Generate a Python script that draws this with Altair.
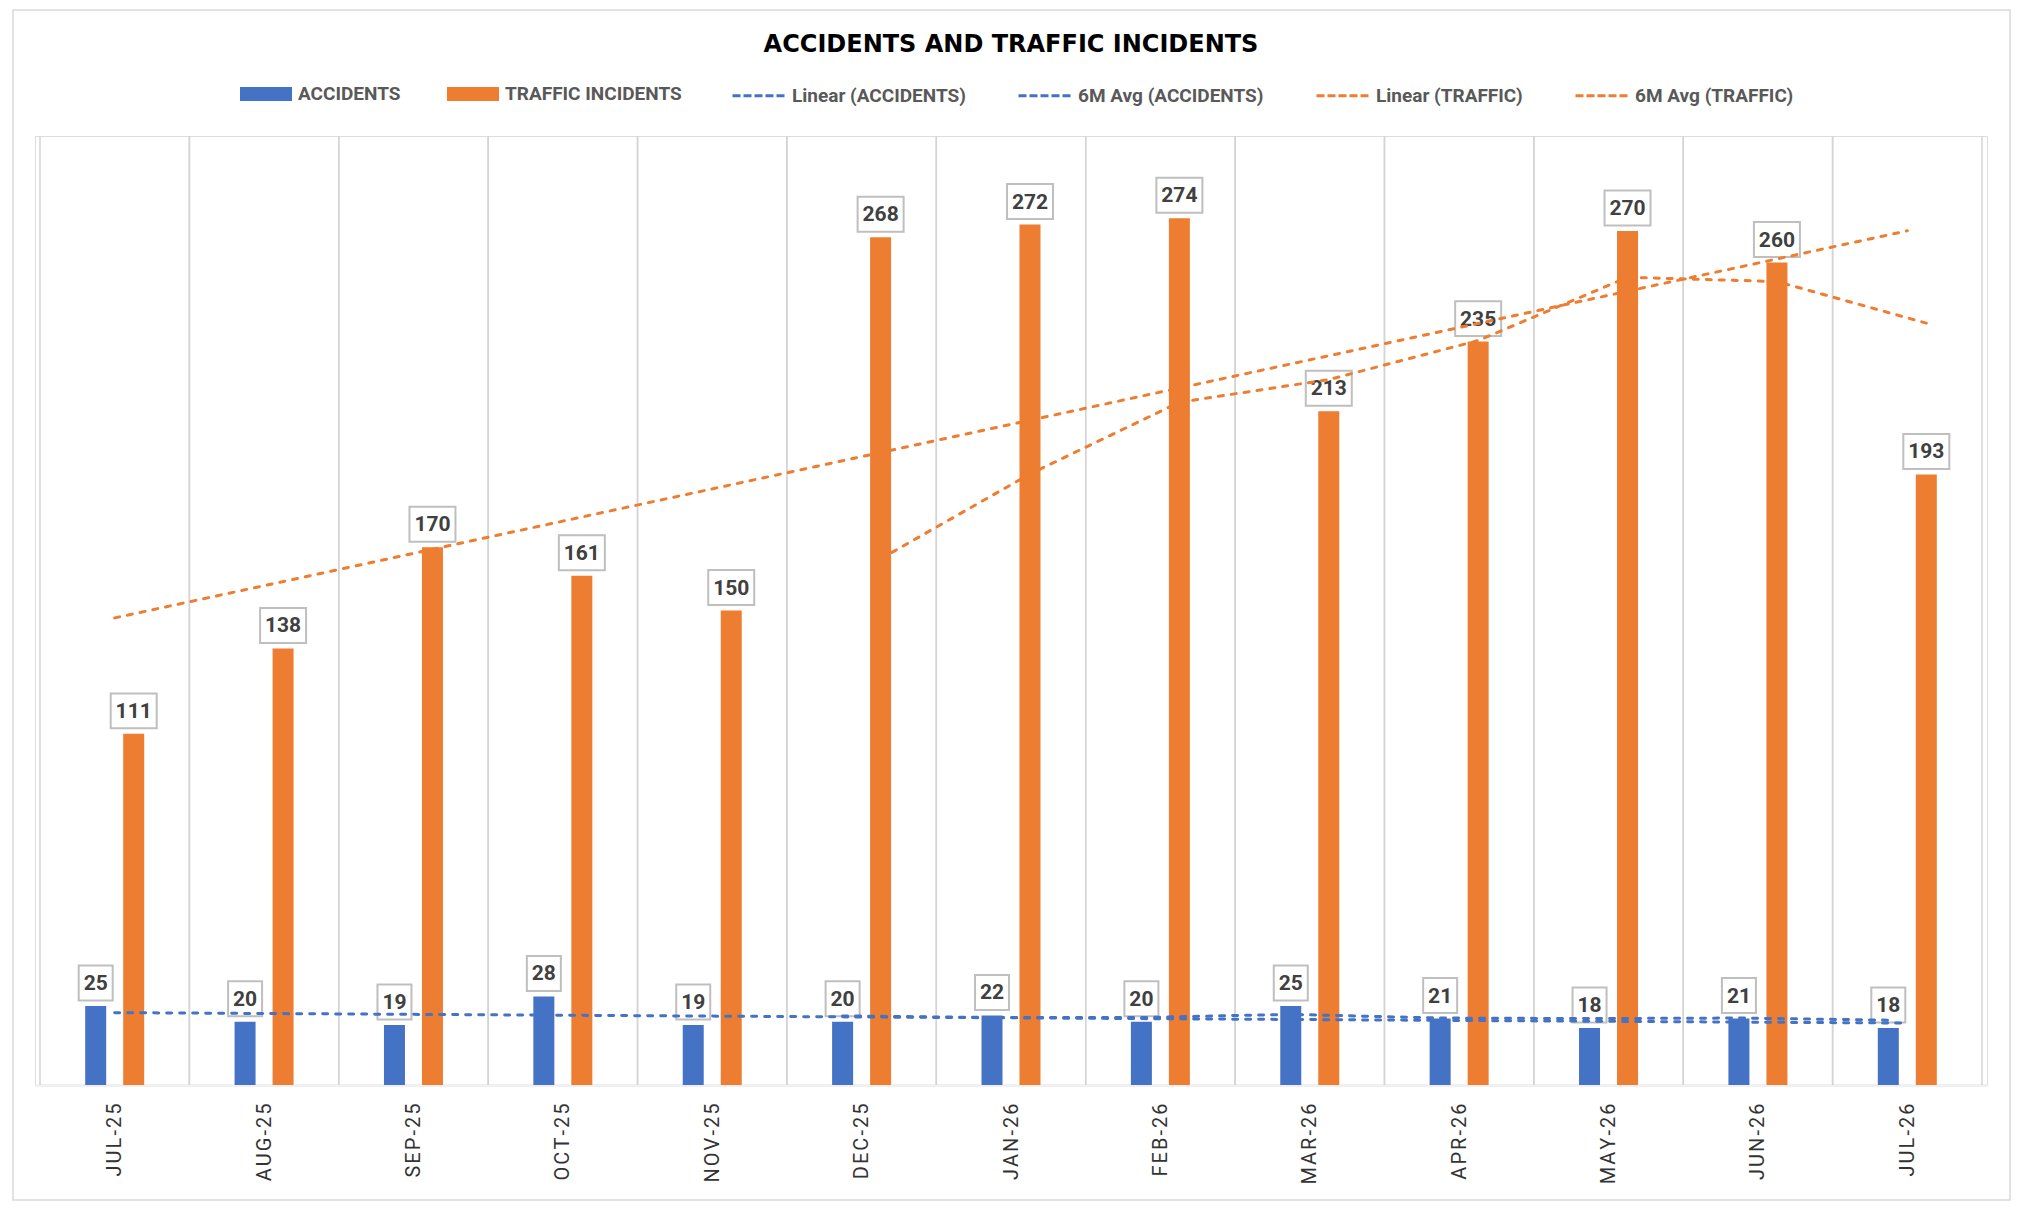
import altair as alt
import pandas as pd

# ---- data ----
months = ["JUL-25", "AUG-25", "SEP-25", "OCT-25", "NOV-25", "DEC-25", "JAN-26",
          "FEB-26", "MAR-26", "APR-26", "MAY-26", "JUN-26", "JUL-26"]
accidents = [25, 20, 19, 28, 19, 20, 22, 20, 25, 21, 18, 21, 18]
traffic = [111, 138, 170, 161, 150, 268, 272, 274, 213, 235, 270, 260, 193]

bar_series = ["ACCIDENTS", "TRAFFIC INCIDENTS"]
line_series = ["Linear (ACCIDENTS)", "6M Avg (ACCIDENTS)", "Linear (TRAFFIC)", "6M Avg (TRAFFIC)"]

df = pd.DataFrame({"idx": list(range(len(months))), "month": months,
                   "accidents": accidents, "traffic": traffic})

BLUE = "#4472C4"
ORANGE = "#ED7D31"
FONT = "Roboto"
W, H = 1952, 949
OFF = 19  # pixel offset of each bar from the category centre

xscale = alt.Scale(domain=[-0.5, len(months) - 0.5], nice=False, zero=False)
yscale = alt.Scale(domain=[0, 300], nice=False, zero=True)

hair = chr(0x200A)
arr = "[" + ",".join("'" + m + "'" for m in months) + "]"
label_expr = "join(split(" + arr + "[datum.value], ''), '" + hair + "')"

xaxis = alt.Axis(values=list(range(len(months))), labelExpr=label_expr, labelAngle=270,
                 labelAlign="right", labelBaseline="middle", labelPadding=18,
                 labelFont=FONT, labelFontSize=20, labelColor="#333333",
                 ticks=False, grid=False, domain=True, domainColor="#f0f0f0",
                 domainWidth=3, title=None, labelFlush=False, labelOverlap=False)


def X(field):
    return alt.X(field, type="quantitative", scale=xscale, axis=xaxis)


def Y(field):
    return alt.Y(field, type="quantitative", scale=yscale, axis=None)


fill_scale = alt.Scale(domain=bar_series, range=[BLUE, ORANGE])
stroke_scale = alt.Scale(domain=line_series, range=[BLUE, BLUE, ORANGE, ORANGE])

legend_common = dict(title=None, orient="none", direction="horizontal", padding=0,
                     labelFont=FONT, labelFontSize=19, labelFontWeight="bold",
                     labelColor="#595959", labelOffset=6, columnPadding=46,
                     labelLimit=400, symbolSize=2704)
legend_bars = alt.Legend(legendX=205, legendY=-68, symbolType="M-1,-0.27H1V0.27H-1Z",
                         symbolStrokeWidth=0, symbolOpacity=1, **legend_common)
legend_lines = alt.Legend(legendX=696, legendY=-68, symbolType="stroke",
                          symbolDash=[8, 3], symbolStrokeWidth=3, **legend_common)

base = alt.Chart(df)

# category separators (grid)
grid = base.transform_calculate(lo="datum.idx - 0.5", hi="datum.idx + 0.5").transform_fold(
    ["lo", "hi"], as_=["k", "b"]).mark_rule(color="#d4d4d4", strokeWidth=1.5).encode(
    x=X("b"), y=alt.value(0), y2=alt.value(H))

bars_acc = base.transform_calculate(bs="'ACCIDENTS'").mark_bar(
    width=21, xOffset=-OFF).encode(
    x=X("idx"), y=Y("accidents"),
    fill=alt.Fill("bs:N", scale=fill_scale, legend=legend_bars))
bars_tr = base.transform_calculate(bs="'TRAFFIC INCIDENTS'").mark_bar(
    width=21, xOffset=OFF).encode(
    x=X("idx"), y=Y("traffic"),
    fill=alt.Fill("bs:N", scale=fill_scale, legend=legend_bars))

box_style = dict(filled=True, fill="white", stroke="#bfbfbf", strokeWidth=2, opacity=1,
                 yOffset=-23)
box_acc = base.mark_point(shape="M-1,-1.03H1V1.03H-1Z", size=1156, xOffset=-OFF,
                          **box_style).encode(x=X("idx"), y=Y("accidents"))
box_tr = base.mark_point(shape="M-1,-0.76H1V0.76H-1Z", size=2116, xOffset=OFF,
                         **box_style).encode(x=X("idx"), y=Y("traffic"))

text_style = dict(font=FONT, fontSize=21, fontWeight="bold", color="#404040",
                  baseline="middle", align="center", yOffset=-22)
txt_acc = base.mark_text(xOffset=-OFF, **text_style).encode(
    x=X("idx"), y=Y("accidents"), text="accidents:Q")
txt_tr = base.mark_text(xOffset=OFF, **text_style).encode(
    x=X("idx"), y=Y("traffic"), text="traffic:Q")

line_style = dict(strokeDash=[5, 8], strokeWidth=3, strokeCap="round")


def linear(field, name):
    return base.transform_regression("idx", field, method="linear").transform_calculate(
        ls="'" + name + "'").mark_line(**line_style).encode(
        x=X("idx"), y=Y(field),
        stroke=alt.Stroke("ls:N", scale=stroke_scale, legend=legend_lines))


def mavg(field, name, off):
    return base.transform_window(
        ma="mean(" + field + ")", n="count()", frame=[-5, 0],
        sort=[alt.SortField("idx")]).transform_filter("datum.n >= 6").transform_calculate(
        ls="'" + name + "'").mark_line(xOffset=off, **line_style).encode(
        x=X("idx"), y=Y("ma"),
        stroke=alt.Stroke("ls:N", scale=stroke_scale, legend=legend_lines))


lin_acc = linear("accidents", line_series[0])
ma_acc = mavg("accidents", line_series[1], -OFF)
lin_tr = linear("traffic", line_series[2])
ma_tr = mavg("traffic", line_series[3], OFF)

frame = alt.Chart(pd.DataFrame({"k": [0]})).mark_rect(
    fill="transparent", stroke="#d9d9d9", strokeWidth=1.5).encode(
    x=alt.value(-22), x2=alt.value(W + 23), y=alt.value(-126), y2=alt.value(H + 115))

chart = alt.layer(
    frame, grid, bars_acc, bars_tr, box_acc, box_tr, txt_acc, txt_tr,
    lin_acc, ma_acc, lin_tr, ma_tr
).properties(
    width=W, height=H,
    padding={"left": 27, "top": 128, "right": 30, "bottom": 120},
    autosize=alt.AutoSizeParams(type="none"),
    title=alt.TitleParams("ACCIDENTS AND TRAFFIC INCIDENTS", font="DejaVu Sans",
                          fontSize=24, fontWeight="bold", color="#000000",
                          anchor="middle", frame="group", offset=-67,
                          baseline="alphabetic"),
).resolve_scale(fill="shared", stroke="shared").configure_view(
    fill="#e7e6e6", stroke=None
).configure(background="white")

chart.save("out.html", embed_options={"renderer": "svg", "actions": False})
